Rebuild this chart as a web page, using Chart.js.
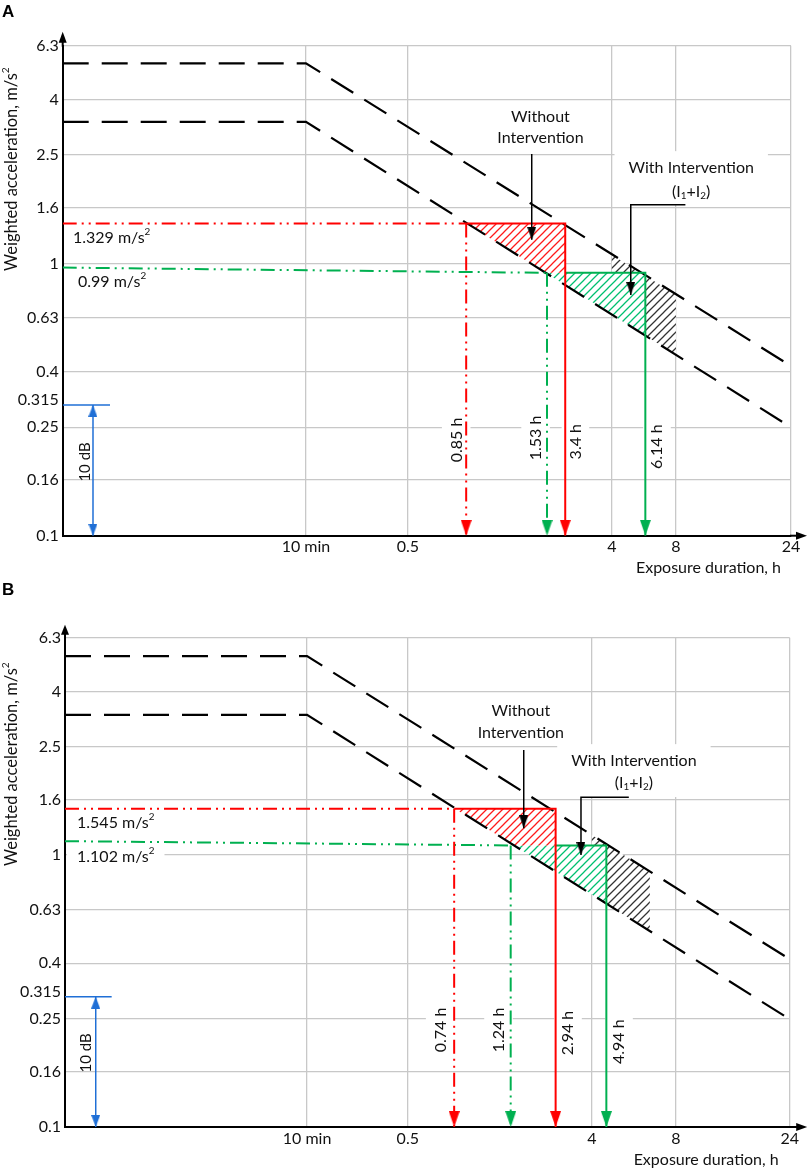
<!DOCTYPE html>
<html>
<head>
<meta charset="utf-8">
<script src="https://cdn.jsdelivr.net/npm/chart.js@4.4.1/dist/chart.umd.min.js"></script>
<style>
html,body{margin:0;padding:0;background:#fff;}
#wrap{position:relative;width:809px;height:1169px;overflow:hidden;background:#fff;}
.panel{position:absolute;left:0;width:809px;}
#pa{top:0;height:584px;}
#pb{top:584px;height:585px;}
.letter{position:absolute;left:2px;font:bold 17px "Liberation Sans",Arial,sans-serif;line-height:17px;color:#000;}
</style>
</head>
<body>
<div id="wrap">
  <div class="panel" id="pa"><canvas id="ca"></canvas></div>
  <div class="panel" id="pb"><canvas id="cb"></canvas></div>
  <div class="letter" style="top:3px">A</div>
  <div class="letter" style="top:581px">B</div>
</div>
<script>
// ---------------- shared axis data ----------------
const yTickValues = [0.1, 0.16, 0.25, 0.315, 0.4, 0.63, 1, 1.6, 2.5, 4, 6.3];
const xTickLabels = ['10 min', '0.5', '4', '8', '24'];
const yFloor = 0.1;

// ---------------- panel A (x in axis position units 0..100) ----------------
const xTickPosA = [33.4, 47.4, 75.4, 84.2, 100];
const limitXA = [0, 33.4, 100];
const upperLimitA = [5.43, 5.43, 0.42];
const lowerLimitA = [3.31, 3.31, 0.25];
const redLevelA = 1.40;
const redXA = [55.4, 69.0];
const greenLevelA = [0.965, 0.923];
const greenXA = [66.5, 69.0, 80.0];
const redZoneXA = [55.4, 66.3, 69.0, 69.0];
const redZoneYA = [1.40, 0.923, 0.923, 1.40];
const greenZoneXA = [66.3, 80.0, 80.0];
const greenZoneYA = [0.923, 0.544, 0.923];
const blackZoneXA = [75.4, 75.4, 84.2, 84.2];
const blackZoneYA = [1.076, 0.649, 0.462, 0.767];
const dbRefA = [0.302, 6.5, 4.16];
const leaderWithoutXA = [64.4, 64.4];
const leaderWithoutYA = [2.52, 1.22];
const leaderWithXA = [85.5, 78.0, 78.0];
const leaderWithYA = [1.64, 1.64, 0.766];

// ---------------- panel B ----------------
const xTickPosB = [33.4, 47.3, 72.7, 84.3, 100];
const limitXB = [0, 33.4, 100];
const upperLimitB = [5.39, 5.39, 0.414];
const lowerLimitB = [3.28, 3.28, 0.249];
const redLevelB = 1.48;
const redXB = [53.7, 67.7];
const greenLevelB = [1.125, 1.085];
const greenXB = [61.5, 67.7, 74.7];
const redZoneXB = [53.8, 62.0, 67.7, 67.7];
const redZoneYB = [1.48, 1.085, 1.085, 1.48];
const greenZoneXB = [62.0, 74.7, 74.7];
const greenZoneYB = [1.085, 0.663, 1.085];
const blackZoneXB = [72.7, 72.7, 80.7, 80.7];
const blackZoneYB = [1.186, 0.716, 0.525, 0.870];
const dbRefB = [0.3015, 6.44, 4.24];
const leaderWithoutXB = [63.3, 63.3];
const leaderWithoutYB = [2.435, 1.255];
const leaderWithXB = [77.8, 71.2, 71.2];
const leaderWithYB = [1.632, 1.632, 1.001];

// ---------------- text notes (anchored in data units) ----------------
const notesA = [
  {lines: ['1.329 m/s^2'], u: 1.4, v: 1.24, align: 'left'},
  {lines: ['0.99 m/s^2'], u: 2.1, v: 0.855, align: 'left'},
  {lines: ['10 dB'], u: 3.06, v: 0.1865, rot: true, size: 15},
  {lines: ['Without', 'Intervention'], u: 65.6, v: 3.155, gap: 21, box: [3, 2, 2]},
  {lines: ['With Intervention', '(I_1+I_2)'], u: 86.3, v: 2.025, gap: 24, box: [14, 8, 4]},
  {lines: ['0.85 h'], u: 54.1, v: 0.2246, rot: true, box: [4, 6, 5]},
  {lines: ['1.53 h'], u: 65.0, v: 0.2285, rot: true, box: [4, 6, 5]},
  {lines: ['3.4 h'], u: 70.4, v: 0.2214, rot: true, box: [4, 5, 5]},
  {lines: ['6.14 h'], u: 81.6, v: 0.2122, rot: true, box: [4, 5, 5]}
];
const notesB = [
  {lines: ['1.545 m/s^2'], u: 1.66, v: 1.316, align: 'left'},
  {lines: ['1.102 m/s^2'], u: 1.66, v: 0.9865, align: 'left', box: [10, 2, 2]},
  {lines: ['10 dB'], u: 2.9, v: 0.1872, rot: true, size: 15},
  {lines: ['Without', 'Intervention'], u: 62.9, v: 3.09, gap: 21.7, box: [3, 2, 2]},
  {lines: ['With Intervention', '(I_1+I_2)'], u: 78.5, v: 2.019, gap: 22.3, box: [14, 8, 5]},
  {lines: ['0.74 h'], u: 51.84, v: 0.2274, rot: true, box: [4, 6, 5]},
  {lines: ['1.24 h'], u: 59.89, v: 0.2274, rot: true, box: [4, 6, 5]},
  {lines: ['2.94 h'], u: 69.41, v: 0.2216, rot: true, box: [4, 5, 5]},
  {lines: ['4.94 h'], u: 76.45, v: 0.2059, rot: true, box: [4, 5, 5]}
];

// ---------------- styling ----------------
const FONT = 'Lato, "Noto Sans", sans-serif';
const RED = '#ff0000', GREEN = '#00b050', BLUE = '#1f6fd6', GRID = '#c8c8c8', TEXT = '#111';
const DASH_LIMIT = [26, 13];
const DASH_DOT2 = [14, 5, 2, 5, 2, 5];

function arrowImg(color, w, h) {
  const c = document.createElement('canvas');
  c.width = w; c.height = 2 * h;
  const g = c.getContext('2d');
  g.fillStyle = color;
  g.beginPath(); g.moveTo(0, 0); g.lineTo(w, 0); g.lineTo(w / 2, h); g.closePath(); g.fill();
  return c;
}
function hatch(color) {
  const s = 8;
  const c = document.createElement('canvas');
  c.width = s; c.height = s;
  const g = c.getContext('2d');
  g.fillStyle = '#fff'; g.fillRect(0, 0, s, s);
  g.strokeStyle = color; g.lineWidth = 1.25;
  g.beginPath();
  g.moveTo(0, s); g.lineTo(s, 0);
  g.moveTo(-2, 2); g.lineTo(2, -2);
  g.moveTo(s - 2, s + 2); g.lineTo(s + 2, s - 2);
  g.stroke();
  return g.createPattern(c, 'repeat');
}
const pts = (xs, ys) => xs.map((x, i) => ({x, y: ys[i]}));

function line(data, color, width, dash, arrow, both) {
  const n = data.length;
  const ds = {
    data, borderColor: color, borderWidth: width, borderDash: dash || [],
    fill: false, tension: 0, pointRadius: 0, pointHoverRadius: 0, pointHitRadius: 0
  };
  if (arrow) {
    ds.pointStyle = arrow;
    ds.pointRadius = c => (c.dataIndex === n - 1 || (both && c.dataIndex === 0)) ? 5 : 0;
    ds.pointRotation = c => (both && c.dataIndex === 0) ? 180 : 0;
  }
  return ds;
}
function zone(data, pattern) {
  return {data, borderColor: 'rgba(0,0,0,0)', borderWidth: 0, backgroundColor: pattern,
          fill: 'shape', pointRadius: 0, pointHoverRadius: 0, tension: 0};
}

function buildDatasets(d) {
  const aR = arrowImg(RED, 11, 16), aG = arrowImg(GREEN, 11, 16);
  const aK = arrowImg('#000', 9, 13), aB = arrowImg(BLUE, 9, 12);
  return [
    line([{x: d.dbRef[2], y: d.dbRef[0]}, {x: d.dbRef[2], y: yFloor}], BLUE, 1.5, [], aB, true),
    line([{x: 0, y: d.dbRef[0]}, {x: d.dbRef[1], y: d.dbRef[0]}], BLUE, 1.5),
    line(pts(d.lwoX, d.lwoY), '#000', 1.5, [], aK),
    line(pts(d.lwX, d.lwY), '#000', 1.5, [], aK),
    line([{x: 0, y: d.red}, {x: d.redX[0], y: d.red}], RED, 2, DASH_DOT2),
    line([{x: d.redX[0], y: d.red}, {x: d.redX[0], y: yFloor}], RED, 2, DASH_DOT2, aR),
    line([{x: d.redX[0], y: d.red}, {x: d.redX[1], y: d.red}, {x: d.redX[1], y: yFloor}], RED, 2, [], aR),
    line([{x: 0, y: d.green[0]}, {x: d.greenX[0], y: d.green[1]}], GREEN, 2, DASH_DOT2),
    line([{x: d.greenX[0], y: d.green[1]}, {x: d.greenX[0], y: yFloor}], GREEN, 2, DASH_DOT2, aG),
    line([{x: d.greenX[1], y: d.green[1]}, {x: d.greenX[2], y: d.green[1]}, {x: d.greenX[2], y: yFloor}], GREEN, 2, [], aG),
    line(pts(d.limitX, d.upper), '#000', 2.2, DASH_LIMIT),
    line(pts(d.limitX, d.lower), '#000', 2.2, DASH_LIMIT),
    zone(pts(d.rzX, d.rzY), hatch('#ff1a1a')),
    zone(pts(d.gzX, d.gzY), hatch('#00c070')),
    zone(pts(d.bzX, d.bzY), hatch('#333333'))
  ];
}

// ---------------- rich text helpers ----------------
function parseRich(s) {
  const parts = []; let buf = '';
  for (let i = 0; i < s.length; i++) {
    const c = s[i];
    if ((c === '^' || c === '_') && i + 1 < s.length) {
      if (buf) { parts.push({t: buf, k: 0}); buf = ''; }
      parts.push({t: s[i + 1], k: c === '^' ? 1 : -1}); i++;
    } else buf += c;
  }
  if (buf) parts.push({t: buf, k: 0});
  return parts;
}
function measureRich(ctx, s, size) {
  let w = 0;
  parseRich(s).forEach(p => { ctx.font = (p.k ? size * 0.62 : size) + 'px ' + FONT; w += ctx.measureText(p.t).width; });
  return w;
}
function drawRich(ctx, s, x, y, size) {
  ctx.textBaseline = 'middle'; ctx.textAlign = 'left';
  let cx = x;
  parseRich(s).forEach(p => {
    const fs = p.k ? size * 0.62 : size;
    ctx.font = fs + 'px ' + FONT;
    const dy = p.k === 1 ? -size * 0.36 : (p.k === -1 ? size * 0.24 : 0);
    ctx.fillText(p.t, cx, y + dy);
    cx += ctx.measureText(p.t).width;
  });
}
function drawNotes(chart, notes, phase) {
  const ctx = chart.ctx, xs = chart.scales.x, ys = chart.scales.y;
  notes.forEach(n => {
    const size = n.size || 16, gap = n.gap || 20;
    const px = xs.getPixelForValue(n.u), py = ys.getPixelForValue(n.v);
    const widths = n.lines.map(l => measureRich(ctx, l, size));
    const w = Math.max.apply(null, widths);
    const h = gap * (n.lines.length - 1) + size * 1.1;
    const align = n.align || 'center';
    ctx.save();
    ctx.translate(px, py);
    if (n.rot) ctx.rotate(-Math.PI / 2);
    if (phase === 'box') {
      if (n.box) {
        const b = n.box, x0 = align === 'left' ? 0 : -w / 2;
        ctx.fillStyle = '#fff';
        ctx.fillRect(x0 - b[0], -h / 2 - b[1], w + 2 * b[0], h + b[1] + b[2]);
      }
    } else {
      ctx.fillStyle = TEXT;
      n.lines.forEach((l, i) => {
        const ly = -gap * (n.lines.length - 1) / 2 + i * gap;
        const lx = align === 'left' ? 0 : -widths[i] / 2;
        drawRich(ctx, l, lx, ly, size);
      });
    }
    ctx.restore();
  });
}
function decorPlugin(notes, t) {
  return {
    id: 'decor',
    beforeDatasetsDraw(chart) { drawNotes(chart, notes, 'box'); },
    afterDatasetsDraw(chart) {
      drawNotes(chart, notes, 'text');
      const ctx = chart.ctx, a = chart.chartArea;
      ctx.save();
      ctx.strokeStyle = '#000'; ctx.fillStyle = '#000'; ctx.lineWidth = 2;
      ctx.beginPath(); ctx.moveTo(a.left, a.top + 1); ctx.lineTo(a.left, a.top - 6); ctx.stroke();
      ctx.beginPath(); ctx.moveTo(a.left, a.top - t.yArrow); ctx.lineTo(a.left - 4, a.top - 3); ctx.lineTo(a.left + 4, a.top - 3); ctx.closePath(); ctx.fill();
      ctx.beginPath(); ctx.moveTo(a.right - 1, a.bottom); ctx.lineTo(a.right + t.xArrow - 8, a.bottom); ctx.stroke();
      ctx.beginPath(); ctx.moveTo(a.right + t.xArrow, a.bottom); ctx.lineTo(a.right + t.xArrow - 11, a.bottom - 4); ctx.lineTo(a.right + t.xArrow - 11, a.bottom + 4); ctx.closePath(); ctx.fill();
      ctx.fillStyle = TEXT;
      ctx.save();
      ctx.translate(t.yTitleX, chart.scales.y.getPixelForValue(t.yTitleV));
      ctx.rotate(-Math.PI / 2);
      const yt = 'Weighted acceleration, m/s^2';
      drawRich(ctx, yt, -measureRich(ctx, yt, 16.5) / 2, 0, 16.5);
      ctx.restore();
      const xt = 'Exposure duration, h';
      drawRich(ctx, xt, a.right - t.xTitleRight - measureRich(ctx, xt, 16), a.bottom + t.xTitleDy, 16);
      ctx.restore();
    }
  };
}

function makeChart(id, d, notes, layout) {
  return new Chart(document.getElementById(id), {
    type: 'line',
    data: {datasets: buildDatasets(d)},
    options: {
      responsive: true, maintainAspectRatio: false, animation: false, events: [],
      layout: {padding: {left: 0, top: layout.top, right: layout.right, bottom: 0}},
      plugins: {legend: {display: false}, tooltip: {enabled: false}},
      scales: {
        x: {
          type: 'linear', min: 0, max: 100,
          afterBuildTicks: s => { s.ticks = d.xTickPos.map(v => ({value: v})); },
          afterFit: s => { s.height = layout.xh; },
          ticks: {autoSkip: false, maxRotation: 0, padding: 2, color: TEXT,
                  font: {family: FONT, size: 16}, callback: (v, i) => xTickLabels[i]},
          grid: {color: GRID, lineWidth: 1.3, drawTicks: false},
          border: {color: '#000', width: 2}
        },
        y: {
          type: 'logarithmic', min: 0.1, max: 6.3,
          afterBuildTicks: s => { s.ticks = yTickValues.map(v => ({value: v})); },
          afterFit: s => { s.width = layout.yw; },
          ticks: {autoSkip: false, padding: 4, color: TEXT,
                  font: {family: FONT, size: 16}, callback: v => String(v)},
          grid: {color: c => (c.tick && c.tick.value === 0.315) ? 'rgba(0,0,0,0)' : GRID,
                 lineWidth: 1.3, drawTicks: false},
          border: {color: '#000', width: 2}
        }
      }
    },
    plugins: [decorPlugin(notes, layout)]
  });
}

Chart.defaults.font.family = FONT;

makeChart('ca', {
  xTickPos: xTickPosA, limitX: limitXA, upper: upperLimitA, lower: lowerLimitA,
  red: redLevelA, redX: redXA, green: greenLevelA, greenX: greenXA,
  rzX: redZoneXA, rzY: redZoneYA, gzX: greenZoneXA, gzY: greenZoneYA, bzX: blackZoneXA, bzY: blackZoneYA,
  dbRef: dbRefA, lwoX: leaderWithoutXA, lwoY: leaderWithoutYA, lwX: leaderWithXA, lwY: leaderWithYA
}, notesA, {top: 45.7, right: 18, xh: 48.3, yw: 62.7, yArrow: 14, xArrow: 16,
            yTitleX: 12, yTitleV: 2.22, xTitleRight: 10, xTitleDy: 32});

makeChart('cb', {
  xTickPos: xTickPosB, limitX: limitXB, upper: upperLimitB, lower: lowerLimitB,
  red: redLevelB, redX: redXB, green: greenLevelB, greenX: greenXB,
  rzX: redZoneXB, rzY: redZoneYB, gzX: greenZoneXB, gzY: greenZoneYB, bzX: blackZoneXB, bzY: blackZoneYB,
  dbRef: dbRefB, lwoX: leaderWithoutXB, lwoY: leaderWithoutYB, lwX: leaderWithXB, lwY: leaderWithYB
}, notesB, {top: 53.7, right: 19.3, xh: 42, yw: 65, yArrow: 13, xArrow: 17.5,
            yTitleX: 12, yTitleV: 2.16, xTitleRight: 11, xTitleDy: 33});
</script>
</body>
</html>
